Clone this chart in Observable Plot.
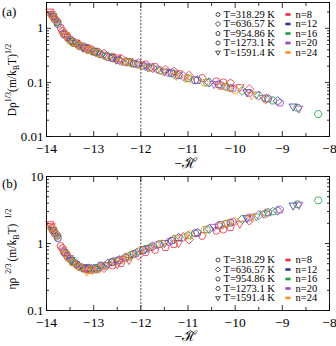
<!DOCTYPE html>
<html>
<head>
<meta charset="utf-8">
<script src="https://cdn.jsdelivr.net/npm/d3@7"></script>
<script src="https://cdn.jsdelivr.net/npm/@observablehq/plot@0.6"></script>
<style>
  html, body { margin: 0; padding: 0; background: white; }
  #chart svg { display: block; }
</style>
</head>
<body>
<div id="chart"></div>
<script>
// ---------------- data ----------------
// rows: [temperature index, -H, D*, eta*]
const n8 = [
  [4,-13.93,2.05,1.95],[4,-13.9,1.85,1.82],[3,-13.88,1.75,1.7],[0,-13.84,1.6,1.55],[1,-13.78,1.35,1.3],
  [0,-13.7,1.02,0.92],[2,-13.66,0.9,0.85],[2,-13.6,0.78,0.72],[3,-13.55,0.7,0.62],[0,-13.45,0.58,0.53],
  [4,-13.38,0.54,0.49],[1,-13.32,0.51,0.46],[2,-13.2,0.46,0.42],[3,-13.12,0.43,0.41],[0,-13.05,0.41,0.4],
  [3,-12.92,0.37,0.41],[1,-12.78,0.34,0.43],[0,-12.6,0.3,0.47],[4,-12.5,0.29,0.49],[2,-12.42,0.275,0.51],
  [4,-12.25,0.25,0.57],[1,-12.05,0.228,0.66],[3,-11.9,0.215,0.74],[0,-11.7,0.195,0.8],[2,-11.48,0.172,0.88],
  [2,-11.3,0.16,0.98],[4,-11.2,0.148,1.02],[1,-10.98,0.133,1.15],[3,-10.7,0.12,1.3],[0,-10.4,0.105,1.55],
  [0,-10.25,0.1,1.62],[2,-10.1,0.097,1.75],[4,-9.9,0.082,1.98],[1,-9.7,0.075,2.2]
];
const n12 = [
  [0,-13.86,1.65,1.55],[2,-13.83,1.5,1.45],[1,-13.8,1.42,1.38],[0,-13.76,1.2,1.2],[2,-13.62,0.78,0.74],
  [3,-13.56,0.68,0.66],[4,-13.48,0.58,0.57],[0,-13.42,0.53,0.52],[1,-13.32,0.48,0.46],[4,-13.22,0.44,0.44],
  [1,-13.15,0.42,0.42],[2,-13.1,0.4,0.43],[0,-12.98,0.37,0.43],[3,-12.85,0.33,0.47],[1,-12.7,0.3,0.5],
  [3,-12.6,0.28,0.53],[4,-12.52,0.265,0.56],[2,-12.33,0.24,0.62],[0,-12.15,0.222,0.7],[3,-11.95,0.205,0.8],
  [1,-11.75,0.185,0.9],[4,-11.5,0.16,1.02],[0,-11.35,0.148,1.1],[2,-11.2,0.135,1.22],[3,-10.85,0.11,1.42],
  [1,-10.55,0.1,1.65],[2,-10.35,0.092,1.85],[0,-10.1,0.079,2.05],[4,-9.75,0.066,2.4],[2,-9.3,0.05,2.9],
  [1,-9.1,0.045,3.1],[4,-8.77,0.036,3.7]
];
const n16 = [
  [4,-13.87,1.7,1.6],[0,-13.83,1.5,1.45],[2,-13.78,1.3,1.32],[1,-13.6,0.74,0.7],[0,-13.5,0.6,0.59],
  [2,-13.45,0.56,0.54],[3,-13.38,0.53,0.5],[0,-13.3,0.48,0.45],[4,-13.25,0.46,0.44],[1,-13.12,0.41,0.42],
  [2,-13.0,0.37,0.42],[1,-12.95,0.36,0.42],[0,-12.88,0.34,0.44],[4,-12.74,0.31,0.48],[3,-12.6,0.28,0.53],
  [1,-12.45,0.255,0.57],[2,-12.25,0.235,0.64],[3,-12.2,0.23,0.68],[0,-12.05,0.212,0.76],[4,-11.85,0.19,0.86],
  [3,-11.6,0.167,0.98],[1,-11.3,0.143,1.15],[2,-11.0,0.12,1.32],[2,-10.8,0.11,1.45],[0,-10.6,0.1,1.62],
  [3,-10.2,0.084,1.97],[1,-9.85,0.07,2.3],[4,-9.55,0.06,2.55],[4,-9.4,0.052,2.8],[2,-9.2,0.046,3.0],
  [3,-8.68,0.034,3.85],[3,-8.24,0.026,4.4]
];
const n20 = [
  [1,-13.88,1.75,1.65],[3,-13.85,1.6,1.52],[0,-13.81,1.45,1.4],[2,-13.64,0.8,0.78],[1,-13.58,0.72,0.68],
  [4,-13.52,0.63,0.61],[0,-13.36,0.52,0.49],[2,-13.25,0.46,0.44],[3,-13.18,0.43,0.43],[1,-13.05,0.39,0.42],
  [2,-12.92,0.355,0.43],[4,-12.78,0.32,0.47],[0,-12.62,0.285,0.52],[3,-12.48,0.26,0.56],[4,-12.4,0.25,0.59],
  [1,-12.3,0.24,0.62],[2,-12.1,0.22,0.72],[4,-11.9,0.2,0.83],[0,-11.8,0.19,0.88],[0,-11.65,0.175,0.95],
  [3,-11.4,0.15,1.06],[1,-11.1,0.13,1.25],[2,-10.8,0.11,1.45],[4,-10.45,0.094,1.78],[3,-10.3,0.088,1.9],
  [0,-10.05,0.077,2.1],[3,-9.7,0.064,2.45],[1,-9.5,0.057,2.65],[1,-9.35,0.051,2.8],[2,-9.05,0.042,3.2],
  [4,-8.65,0.033,3.8]
];
const n24 = [
  [2,-13.9,1.8,1.72],[3,-13.84,1.55,1.5],[0,-13.79,1.38,1.35],[1,-13.66,0.85,0.82],[4,-13.6,0.74,0.7],
  [3,-13.54,0.64,0.62],[2,-13.44,0.55,0.52],[1,-13.35,0.5,0.47],[0,-13.28,0.47,0.44],[4,-13.15,0.41,0.38],
  [0,-13.1,0.4,0.4],[1,-13.02,0.375,0.4],[3,-12.9,0.345,0.42],[2,-12.76,0.31,0.47],[0,-12.56,0.27,0.53],
  [4,-12.4,0.25,0.58],[2,-12.3,0.24,0.63],[1,-12.2,0.228,0.67],[3,-12.0,0.205,0.8],[2,-11.78,0.185,0.9],
  [0,-11.55,0.16,1.0],[4,-11.25,0.132,1.2],[4,-11.05,0.12,1.28],[1,-10.95,0.115,1.35],[3,-10.65,0.098,1.6],
  [2,-10.3,0.085,1.85],[3,-10.15,0.08,2.0],[0,-10.0,0.071,2.15],[4,-9.65,0.058,2.5],[1,-9.35,0.048,2.85]
];

const temperatures = ["T=318.29 K", "T=636.57 K", "T=954.86 K", "T=1273.1 K", "T=1591.4 K"];
const nLabels = ["n=8", "n=12", "n=16", "n=20", "n=24"];
const nColors = ["#ee2b3b", "#2e3593", "#1c9c3f", "#a33fc6", "#ff8f1f"];
const seriesList = [n8, n12, n16, n20, n24];

const xTicks = [-14, -13, -12, -11, -10, -9, -8];
const xTickLabels = ["−14", "−13", "−12", "−11", "−10", "−9", "−8"];
const xMinor = [-13.5, -12.5, -11.5, -10.5, -9.5, -8.5];
const yTicksA = [0.01, 0.1, 1];
const yTickLabelsA = ["0.01", "0.1", "1"];
const yTicksB = [0.1, 1, 10];
const yTickLabelsB = ["0.1", "1", "10"];
const refLine = [-12];

// ---------------- symbols ----------------
function poly(k, rot, scale) {
  return {
    draw(ctx, size) {
      const R = Math.sqrt(size / Math.PI) * scale;
      for (let i = 0; i < k; i++) {
        const a = rot + 2 * Math.PI * i / k;
        const x = R * Math.cos(a), y = R * Math.sin(a);
        if (i === 0) ctx.moveTo(x, y); else ctx.lineTo(x, y);
      }
      ctx.closePath();
    }
  };
}
const symbols = [
  "circle",
  poly(4, -Math.PI / 2, 1.3),
  poly(5, -Math.PI / 2, 1.15),
  poly(6, 0, 1.1),
  poly(3, Math.PI / 2, 1.35)
];
const dashSym = { draw(ctx) { ctx.rect(-2.6, -1.3, 5.2, 2.6); } };

function minorLog(lo, hi) {
  const out = [];
  for (let e = lo; e < hi; e++) for (let m = 2; m <= 9; m++) out.push(m * Math.pow(10, e));
  return out;
}

const W = 336, H = 173, ML = 46, MR = 7;
const serif = "'Liberation Serif', 'DejaVu Serif', serif";

function panel({yKey, yDomain, yTicks, yLabels, yMinor, marginTop, marginBottom, legendTop}) {
  const marks = [];
  seriesList.forEach((rows, j) => {
    for (let t = 0; t < 5; t++) {
      marks.push(Plot.dot(rows.filter(r => r[0] === t), {
        x: r => r[1], y: r => r[yKey], symbol: symbols[t], r: 3.5,
        stroke: nColors[j], fill: "none", strokeWidth: 0.8
      }));
    }
  });
  marks.push(Plot.ruleX(refLine, {stroke: "#222", strokeWidth: 0.8, strokeDasharray: "2,1.5"}));
  marks.push(Plot.axisX({anchor: "bottom", ticks: xTicks, tickSize: 0, tickPadding: 7, label: null,
    tickFormat: d => xTickLabels[xTicks.indexOf(d)], fontSize: 13.5}));
  marks.push(Plot.axisY({anchor: "left", ticks: yTicks, tickSize: 0, tickPadding: 3, label: null,
    tickFormat: d => yLabels[yTicks.indexOf(d)], fontSize: 13}));
  marks.push(Plot.axisX({anchor: "bottom", ticks: xTicks, tickSize: 5, dy: -5, text: null, label: null, strokeWidth: 0.8}));
  marks.push(Plot.axisX({anchor: "top", ticks: xTicks, tickSize: 5, dy: 5, text: null, label: null, strokeWidth: 0.8}));
  marks.push(Plot.axisX({anchor: "bottom", ticks: xMinor, tickSize: 3, dy: -3, text: null, label: null, strokeWidth: 0.8}));
  marks.push(Plot.axisX({anchor: "top", ticks: xMinor, tickSize: 3, dy: 3, text: null, label: null, strokeWidth: 0.8}));
  marks.push(Plot.axisY({anchor: "left", ticks: yTicks, tickSize: 5, dx: 5, text: null, label: null, strokeWidth: 0.8}));
  marks.push(Plot.axisY({anchor: "right", ticks: yTicks, tickSize: 5, dx: -5, text: null, label: null, strokeWidth: 0.8}));
  marks.push(Plot.axisY({anchor: "left", ticks: yMinor, tickSize: 3, dx: 3, text: null, label: null, strokeWidth: 0.8}));
  marks.push(Plot.axisY({anchor: "right", ticks: yMinor, tickSize: 3, dx: -3, text: null, label: null, strokeWidth: 0.8}));
  marks.push(Plot.frame({stroke: "black", strokeWidth: 0.9}));
  for (let i = 0; i < 5; i++) {
    const dy = legendTop + 9.5 * i - marginTop;
    marks.push(Plot.dot([0], {frameAnchor: "top-left", dx: 217.5 - ML, dy, symbol: symbols[i], r: 2,
      stroke: "black", fill: "none", strokeWidth: 0.7}));
    marks.push(Plot.text([temperatures[i]], {frameAnchor: "top-left", dx: 223 - ML, dy, text: d => d,
      textAnchor: "start", lineAnchor: "middle", fontSize: 10.5, fill: "black"}));
    marks.push(Plot.dot([0], {frameAnchor: "top-left", dx: 287.5 - ML, dy, symbol: dashSym, r: 2,
      fill: nColors[i], stroke: "none"}));
    marks.push(Plot.text([nLabels[i]], {frameAnchor: "top-left", dx: 295 - ML, dy, text: d => d,
      textAnchor: "start", lineAnchor: "middle", fontSize: 10.5, fill: "black"}));
  }
  return Plot.plot({
    width: W, height: H,
    marginLeft: ML, marginRight: MR, marginTop, marginBottom,
    style: {fontFamily: serif, color: "black", background: "white", overflow: "visible"},
    x: {domain: [-14, -8]},
    y: {type: "log", domain: yDomain},
    marks
  });
}

function decorate(svg, {panelLabel, panelLabelY, labelCenter, parts}) {
  const s = d3.select(svg);
  s.append("text").attr("x", 2).attr("y", panelLabelY).attr("font-family", serif).attr("font-size", 13)
    .attr("text-anchor", "start").attr("fill", "black").text(panelLabel);
  s.append("text").attr("x", 186).attr("y", 168).attr("font-family", serif).attr("font-size", 14)
    .attr("text-anchor", "middle").attr("fill", "black").text("−ℋ");
  s.append("path").attr("d", "M186.5,160.5 L190.5,157.5 L194.5,160.5")
    .attr("fill", "none").attr("stroke", "black").attr("stroke-width", 0.8);
  const t = s.append("text").attr("transform", `translate(16,${labelCenter}) rotate(-90)`)
    .attr("text-anchor", "middle").attr("font-family", serif).attr("font-size", 11.5).attr("fill", "black");
  for (const p of parts) {
    const ts = t.append("tspan").text(p.t);
    if (p.dy) ts.attr("dy", p.dy);
    if (p.dx) ts.attr("dx", p.dx);
    if (p.fs) ts.attr("font-size", p.fs);
  }
}

const chartA = panel({yKey: 2, yDomain: [0.01, 3], yTicks: yTicksA, yLabels: yTickLabelsA,
  yMinor: minorLog(-2, 0).concat([2, 3]), marginTop: 2, marginBottom: 37, legendTop: 14});
decorate(chartA, {panelLabel: "(a)", panelLabelY: 16, labelCenter: 80, parts: [
  {t: "Dρ"}, {t: "1/3", dy: -5, fs: 8}, {t: "(m/k", dy: 5, fs: 11.5}, {t: "B", dy: 3, fs: 8},
  {t: "T)", dy: -3, fs: 11.5}, {t: "1/2", dy: -5, fs: 8}
]});

const chartB = panel({yKey: 3, yDomain: [0.1, 10], yTicks: yTicksB, yLabels: yTickLabelsB,
  yMinor: minorLog(-1, 1), marginTop: 3, marginBottom: 36, legendTop: 86.5});
decorate(chartB, {panelLabel: "(b)", panelLabelY: 15, labelCenter: 76, parts: [
  {t: "ηρ"}, {t: "2/3", dy: -5, dx: 4, fs: 8}, {t: "(m/k", dy: 5, dx: 2, fs: 11.5}, {t: "B", dy: 3, fs: 8},
  {t: "T)", dy: -3, fs: 11.5}, {t: "1/2", dy: -5, dx: 5, fs: 8}
]});

document.getElementById("chart").append(chartA, chartB);
</script>
</body>
</html>
